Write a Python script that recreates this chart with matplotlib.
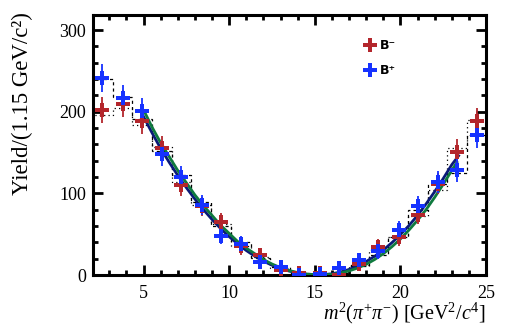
import numpy as np
import matplotlib
matplotlib.use("Agg")
import matplotlib.pyplot as plt
from matplotlib.lines import Line2D

plt.rcParams['mathtext.fontset'] = 'custom'
plt.rcParams['mathtext.rm'] = 'Liberation Serif'
plt.rcParams['mathtext.it'] = 'Liberation Serif:italic'
plt.rcParams['mathtext.bf'] = 'Liberation Serif:bold'

# ---- data ----
bin_edges_lo = 2.05
bin_width = 1.15
n_bins = 20
bin_centers = [2.6, 3.8, 4.9, 6.1, 7.2, 8.4, 9.5, 10.7, 11.8, 13.0,
               14.1, 15.3, 16.4, 17.6, 18.7, 19.9, 21.0, 22.2, 23.3, 24.5]

bminus_y = [202, 210, 188, 156, 110, 84, 65, 35, 24, 6,
            2, 3, 0, 14, 34, 47, 74, 112, 151, 188]
bminus_err = [16, 16, 15, 14, 13, 12, 11, 10, 9, 8,
              8, 8, 8, 9, 10, 11, 12, 13, 15, 16]
bplus_y = [241, 217, 201, 148, 120, 86, 48, 38, 16, 10,
           0, 1, 9, 18, 29, 55, 85, 114, 128, 171]
bplus_err = [17, 16, 16, 14, 13, 12, 10, 10, 9, 8,
             8, 8, 8, 9, 10, 11, 12, 13, 14, 16]

hist_dash = [240, 218, 191, 152, 122, 90, 60, 40, 21, 10,
             3, 1, 3, 11, 25, 47, 80, 112, 125, 171]
hist_dot = [196, 204, 184, 157, 114, 86, 62, 36, 22, 8,
            3, 1, 3, 12, 31, 46, 72, 104, 156, 190]

curve_x = [5.0, 5.5, 6.0, 6.5, 7.0, 7.5, 8.0, 8.5, 9.0, 9.5, 10.0, 10.5,
           11.0, 11.5, 12.0, 12.5, 13.0, 13.5, 14.0, 14.5, 15.0, 15.5,
           16.0, 16.5, 17.0, 17.5, 18.0, 18.5, 19.0, 19.5, 20.0, 20.5,
           21.0, 21.5, 22.0, 22.5, 23.0, 23.4]
curve_navy = [194, 174, 155, 138, 122, 107, 93, 80, 68, 57, 47, 38,
              30, 23, 17, 12, 8, 4.8, 2.5, 1.0, 0.3, 0.4,
              1.5, 3.6, 6.8, 11, 16.5, 23, 30.5, 39.5, 49.5, 60.5,
              73, 87, 102, 118, 135, 146]
curve_green_x = [5.1, 5.5, 6.0, 6.5, 7.0, 7.5, 8.0, 8.5, 9.0, 9.5, 10.0, 10.5,
                 11.0, 11.5, 12.0, 12.5, 13.0, 13.5, 14.0, 14.5, 15.0, 15.5,
                 16.0, 16.5, 17.0, 17.5, 18.0, 18.5, 19.0, 19.5, 20.0, 20.5,
                 21.0, 21.5, 22.0, 22.5, 23.0, 23.3]
curve_green = [198, 181, 162, 145, 128, 113, 98, 85, 73, 61, 51, 41,
               33, 26, 19, 13.5, 9, 5.5, 3, 1.2, 0.3, 0.2,
               0.8, 2.4, 5, 8.5, 13, 19, 26, 34.5, 44, 55,
               67, 80, 95, 111, 128, 138]

x_ticks = [5, 10, 15, 20, 25]
y_ticks = [0, 100, 200, 300]

red = '#b3262c'
blue = '#1632ff'
navy = '#0a1a78'
green = '#0f7a3e'

fig = plt.figure(figsize=(5.06, 3.29), dpi=100)
ax = fig.add_axes([93/506, 1-275/329, (486-93)/506, (275-14.5)/329])

edges = [bin_edges_lo + i*bin_width for i in range(n_bins+1)]
ax.stairs(hist_dash, edges, color='black', lw=0.9, ls=(0, (2.5, 2.5)))
ax.stairs(hist_dot, edges, color='black', lw=0.9, ls=(0, (1, 2.5)))

ax.plot(curve_x, curve_navy, color=navy, lw=2.0, zorder=3)
ax.plot(curve_green_x, curve_green, color=green, lw=2.0, zorder=3)

for yv, ev, col in [(bminus_y, bminus_err, red), (bplus_y, bplus_err, blue)]:
    ax.errorbar(bin_centers, yv, yerr=ev, fmt='none', ecolor=col, elinewidth=1.3,
                capsize=0, zorder=4)
    ax.plot(bin_centers, yv, ls='none', marker='P', ms=9.5, color=col, mew=0, zorder=5)

ax.set_xlim(2.05, 25.0)
ax.set_ylim(0, 319)
ax.set_xticks(x_ticks)
ax.set_yticks(y_ticks)
ax.set_xticks(np.arange(3, 25, 1), minor=True)
ax.set_yticks(np.arange(0, 320, 20), minor=True)
ax.tick_params(which='both', direction='in', top=True, right=True, width=2.0,
               labelsize=13)
ax.tick_params(axis='x', pad=7)
ax.tick_params(axis='y', pad=5)
ax.tick_params(which='major', length=7)
ax.tick_params(which='minor', length=3.5)
for lab in ax.get_xticklabels() + ax.get_yticklabels():
    lab.set_family('Liberation Serif')
for s in ax.spines.values():
    s.set_linewidth(2.2)

handles = [Line2D([], [], ls='none', marker='P', ms=10, color=red, mew=0),
           Line2D([], [], ls='none', marker='P', ms=10, color=blue, mew=0)]
leg = ax.legend(handles, ['B\u207b', 'B\u207a'], loc='upper left',
                bbox_to_anchor=(0.68, 0.93), frameon=False, handlelength=0.6,
                handletextpad=0.5, labelspacing=1.0, borderpad=0,
                prop={'family': 'DejaVu Sans', 'weight': 'bold', 'size': 9})

fig.text(22/506, 1-12/329, 'Yield/(1.15 GeV/c\u00b2)', rotation=90, va='top',
         ha='center', family='Liberation Serif', fontsize=16.5)
fig.text(486/506, 1-313/329, r'$m^2(\pi^{+}\pi^{-})$ [GeV$^2$/$c^4$]',
         ha='right', va='center', family='Liberation Serif', fontsize=14.5)

fig.savefig('out.png', dpi=100)
